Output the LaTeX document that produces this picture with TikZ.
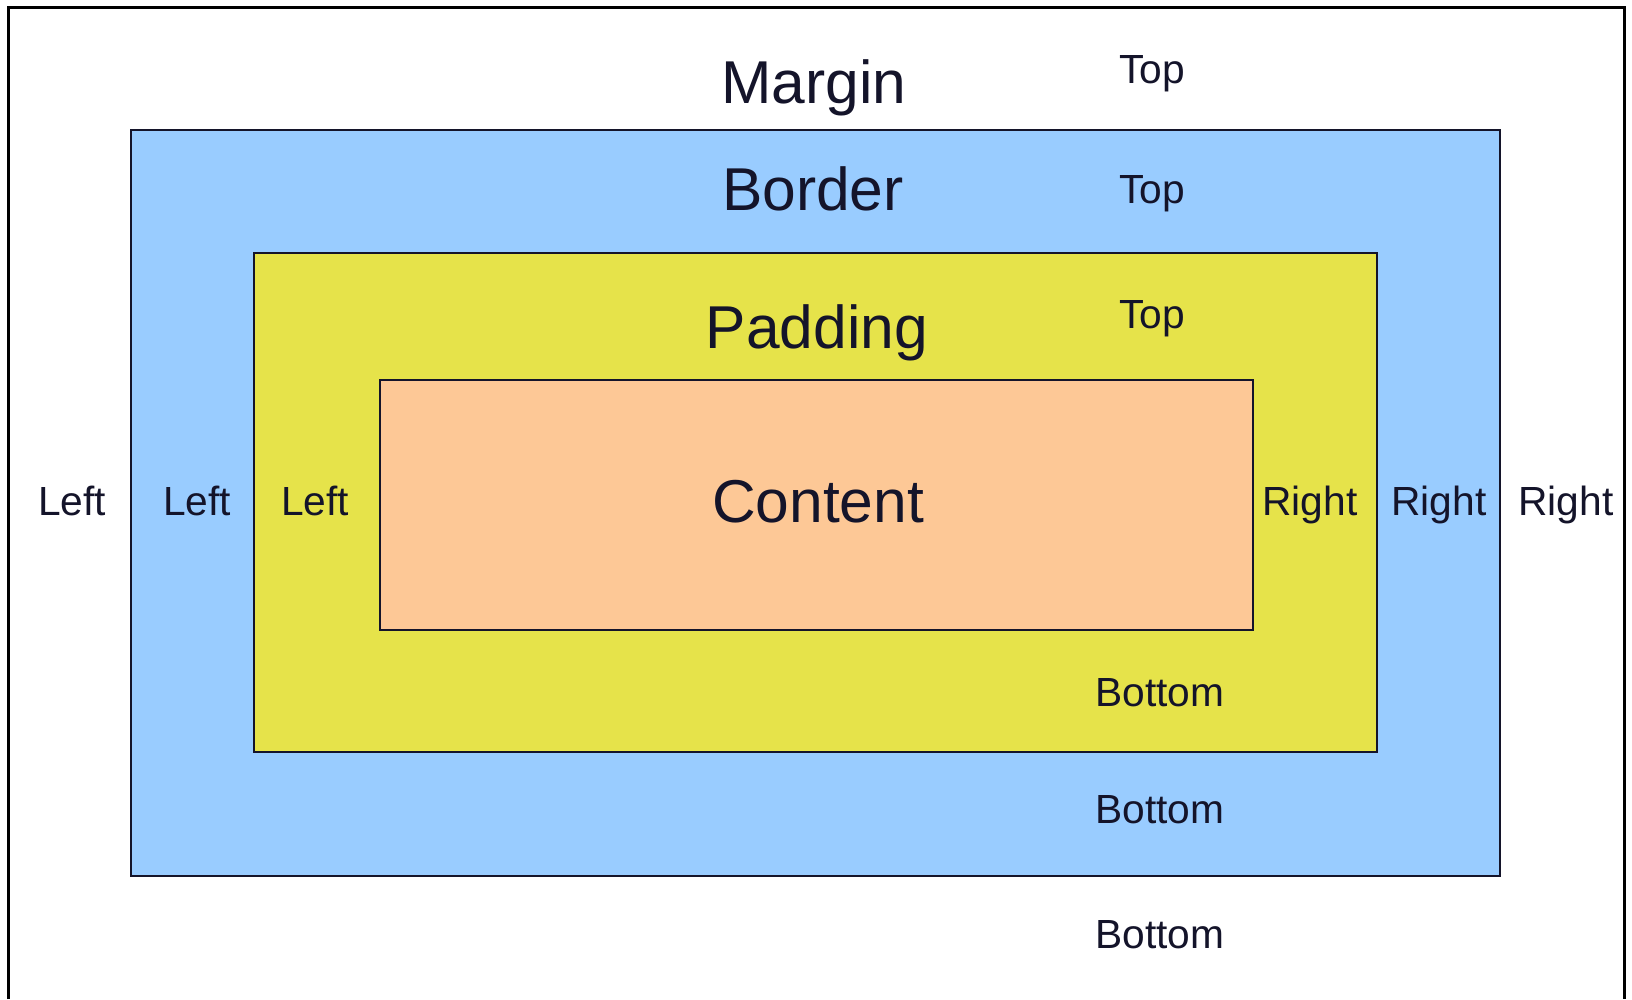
\documentclass[tikz,border=0pt]{standalone}
\usepackage{fontspec}
\setmainfont{Liberation Sans}
\definecolor{borderblue}{HTML}{99CCFF}
\definecolor{padyellow}{HTML}{E6E34A}
\definecolor{contentpeach}{HTML}{FDC896}
\definecolor{ink}{HTML}{14142A}
\begin{document}
\begin{tikzpicture}[x=1pt,y=-1pt,
  boxline/.style={draw=ink, line width=2.8pt},
  frameline/.style={draw=black, line width=3pt},
  biglabel/.style={anchor=base, inner sep=0pt, text=ink, font=\fontsize{60.5}{60.5}\selectfont},
  smalllabel/.style={anchor=base, inner sep=0pt, text=ink, font=\fontsize{40.7}{40.7}\selectfont}]
\useasboundingbox (0,0) rectangle (1632,999);
\fill[white] (0,0) rectangle (1632,999);
\draw[frameline] (8,999) -- (8,7) -- (1624,7) -- (1624,999);
% boxes
\draw[boxline, fill=borderblue] (131,130) rectangle (1500,876);
\draw[boxline, fill=padyellow] (254,253) rectangle (1377,752);
\draw[boxline, fill=contentpeach] (380,380) rectangle (1253,630);
% big labels
\node[biglabel] (margin) at (814,103) {Margin};
\node[biglabel] (border) at (813,210) {Border};
\node[biglabel] (padding) at (817,348) {Padding};
\node[biglabel] (content) at (818,522) {Content};
% top labels
\node[smalllabel] (top1) at (1152,83) {Top};
\node[smalllabel] (top2) at (1152,203) {Top};
\node[smalllabel] (top3) at (1152,328) {Top};
% bottom labels
\node[smalllabel] (bot1) at (1160,706) {Bottom};
\node[smalllabel] (bot2) at (1160,823) {Bottom};
\node[smalllabel] (bot3) at (1160,948) {Bottom};
% left labels
\node[smalllabel] (left1) at (72,515) {Left};
\node[smalllabel] (left2) at (197,515) {Left};
\node[smalllabel] (left3) at (315,515) {Left};
% right labels
\node[smalllabel] (right1) at (1310,515) {Right};
\node[smalllabel] (right2) at (1439,515) {Right};
\node[smalllabel] (right3) at (1566,515) {Right};
\end{tikzpicture}
\end{document}
